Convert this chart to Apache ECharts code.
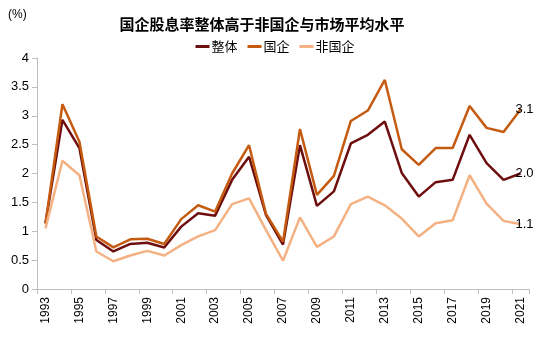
<!DOCTYPE html>
<html>
<head>
<meta charset="utf-8">
<script src="https://cdn.jsdelivr.net/npm/echarts@6/dist/echarts.min.js"></script>
<style>html,body{margin:0;padding:0;background:#fff}#c{width:550px;height:339px}</style>
</head>
<body>
<div id="c"></div>
<script>
const years = ['1993','1994','1995','1996','1997','1998','1999','2000','2001','2002','2003','2004','2005','2006','2007','2008','2009','2010','2011','2012','2013','2014','2015','2016','2017','2018','2019','2020','2021'];
const overall = [1.14,2.93,2.44,0.85,0.65,0.78,0.80,0.72,1.08,1.31,1.27,1.89,2.29,1.28,0.77,2.49,1.44,1.69,2.52,2.67,2.90,2.01,1.60,1.85,1.89,2.67,2.18,1.89,2.00];
const soe = [1.13,3.20,2.55,0.91,0.72,0.86,0.87,0.78,1.21,1.45,1.34,2.00,2.49,1.30,0.82,2.77,1.63,1.96,2.91,3.09,3.62,2.42,2.15,2.44,2.44,3.17,2.79,2.72,3.11];
const nonSoe = [1.05,2.22,1.97,0.65,0.48,0.58,0.66,0.58,0.76,0.91,1.02,1.47,1.57,1.02,0.49,1.24,0.73,0.91,1.47,1.60,1.45,1.22,0.91,1.14,1.19,1.97,1.48,1.18,1.12];
const yTicks = [0,0.5,1,1.5,2,2.5,3,3.5,4];
const names = ['整体','国企','非国企'];
const colors = ['#6E0E0E','#C55A11','#F4B183'];

const font = 'Liberation Sans, Arial, Noto Sans CJK SC, sans-serif';
function mk(name, vals, color){
  return {
    name, type:'line', data: vals,
    symbol:'none', lineStyle:{width:2.5,color}, itemStyle:{color}, z: 2,
    endLabel:{show:true, distance:-5, formatter:(p)=>Number(p.value).toFixed(1), color:'#000', fontSize:13, fontFamily:font}
  };
}
const chart = echarts.init(document.getElementById('c'));
chart.setOption({
  animation:false,
  backgroundColor:'#fff',
  title:{text:'国企股息率整体高于非国企与市场平均水平', left:257, textAlign:'center', top:12,
    textStyle:{fontSize:15, fontWeight:'bold', color:'#000', fontFamily:'Noto Sans CJK SC, sans-serif'}},
  graphic:[{type:'text', left:8, top:9, style:{text:'(%)', fontSize:12, fill:'#000', fontFamily:font}}],
  legend:{data:names, left:'center', top:35, itemWidth:14, itemHeight:3, itemGap:10, icon:'rect',
    textStyle:{fontSize:13, color:'#000', fontFamily:'Noto Sans CJK SC, sans-serif', padding:[0,0,0,-3]}},
  grid:{left:37, right:21, top:58, bottom:50, containLabel:false},
  xAxis:{type:'category', data:years, boundaryGap:true,
    axisLine:{lineStyle:{color:'#BFBFBF', width:1}},
    axisTick:{show:true, interval:1, length:5, lineStyle:{color:'#BFBFBF'}},
    axisLabel:{interval:1, rotate:90, fontSize:12, color:'#000', fontFamily:font, margin:8}},
  yAxis:{type:'value', min:yTicks[0], max:yTicks[yTicks.length-1], interval:0.5,
    axisLine:{show:true, lineStyle:{color:'#BFBFBF'}},
    axisTick:{show:true, length:5, lineStyle:{color:'#BFBFBF'}},
    splitLine:{show:false},
    axisLabel:{fontSize:13, color:'#000', fontFamily:font, margin:8}},
  series:[mk(names[0],overall,colors[0]), mk(names[1],soe,colors[1]), mk(names[2],nonSoe,colors[2])]
});
</script>
</body>
</html>
